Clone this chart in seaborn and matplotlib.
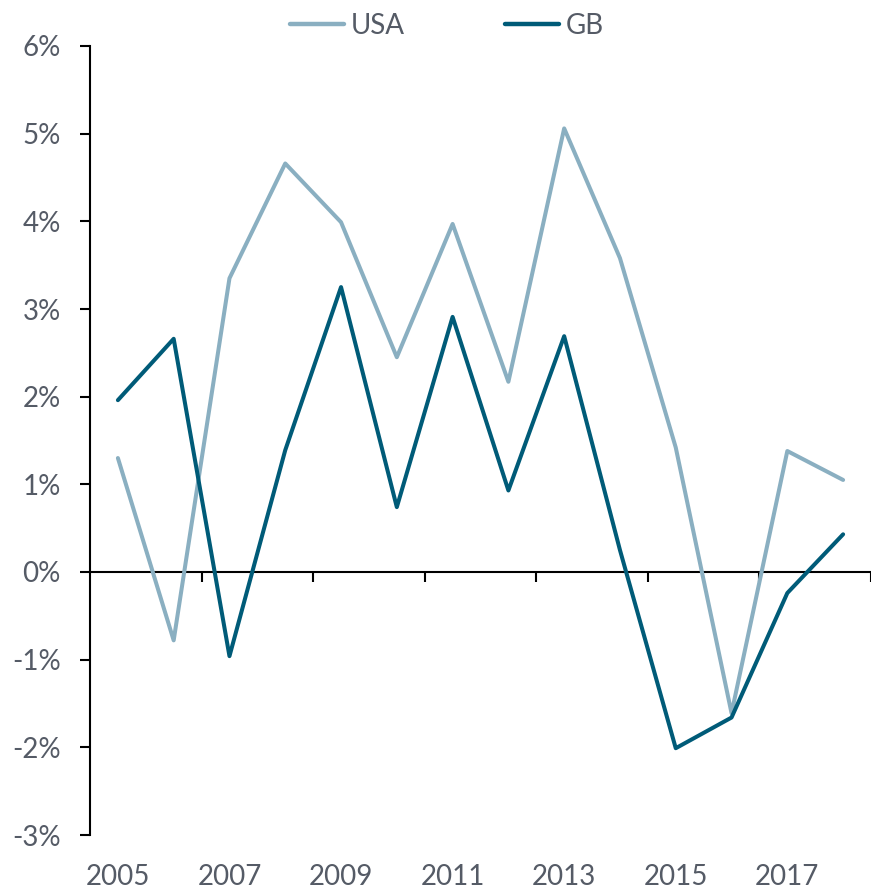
import matplotlib
matplotlib.use("Agg")
import matplotlib.pyplot as plt
import seaborn as sns
import pandas as pd
from matplotlib.ticker import PercentFormatter

years = list(range(2005, 2019))
usa = [1.30, -0.78, 3.35, 4.66, 3.99, 2.45, 3.97, 2.17, 5.06, 3.58, 1.42, -1.61, 1.38, 1.05]
gb = [1.96, 2.66, -0.96, 1.39, 3.25, 0.74, 2.91, 0.93, 2.69, 0.25, -2.01, -1.66, -0.24, 0.43]
series_names = ["USA", "GB"]
colors = {"USA": "#8AAFC1", "GB": "#005B78"}
xtick_years = [2005, 2007, 2009, 2011, 2013, 2015, 2017]
ytick_vals = [-3, -2, -1, 0, 1, 2, 3, 4, 5, 6]

df = pd.DataFrame({
    "year": years * 2,
    "value": usa + gb,
    "country": ["USA"] * len(years) + ["GB"] * len(years),
})

sns.set_style("white")
plt.rcParams["font.family"] = ["Lato", "DejaVu Sans"]
plt.rcParams["axes.unicode_minus"] = False
text_color = "#555B66"
fs = 20

fig = plt.figure(figsize=(8.71, 8.91), dpi=100)
ax = fig.add_axes([90 / 871, 1 - 835 / 891, 1 - 90 / 871, (835 - 46) / 891])

sns.lineplot(data=df, x="year", y="value", hue="country", hue_order=series_names,
             palette=colors, linewidth=2.9, ax=ax, legend=True,
             solid_capstyle="round", solid_joinstyle="round")

ax.set_xlim(2004.5, 2018.5)
ax.set_ylim(-3, 6)
ax.set_xlabel("")
ax.set_ylabel("")

for s in ["top", "right", "bottom"]:
    ax.spines[s].set_visible(False)
ax.spines["left"].set_color("black")
ax.spines["left"].set_linewidth(1.5)

ax.set_yticks(ytick_vals)
ax.yaxis.set_major_formatter(PercentFormatter(decimals=0))
ax.tick_params(axis="y", direction="out", length=7, width=1.5, color="black",
               labelsize=fs, labelcolor=text_color, pad=14, left=True)

ax.set_xticks(xtick_years)
ax.set_xticklabels([str(y) for y in xtick_years])
ax.tick_params(axis="x", length=0, labelsize=fs, labelcolor=text_color, pad=21, bottom=True)

# zero line with category-boundary ticks
sec = ax.secondary_xaxis(3 / 9)
sec.spines["bottom"].set_color("black")
sec.spines["bottom"].set_linewidth(1.5)
sec.set_xticks([2006.5, 2008.5, 2010.5, 2012.5, 2014.5, 2016.5, 2018.5])
sec.tick_params(axis="x", direction="out", length=7, width=1.5, color="black",
                labelbottom=False)

handles, labels = ax.get_legend_handles_labels()
ax.get_legend().remove()
leg = fig.legend(handles, labels, loc="center", bbox_to_anchor=(0.513, 1 - 26 / 891),
                 ncol=2, frameon=False, fontsize=fs, handlelength=1.95,
                 handletextpad=0.25, columnspacing=3.6, labelcolor=text_color)
for h in leg.get_lines():
    h.set_linewidth(3.2)

fig.savefig("out.png", dpi=100)
